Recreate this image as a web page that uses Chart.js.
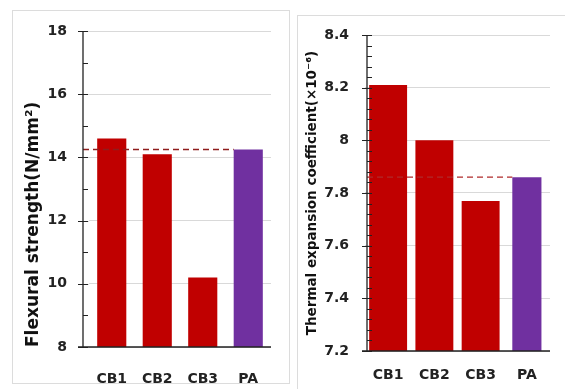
<!DOCTYPE html>
<html lang="en">
<head>
    <meta charset="UTF-8">
    <title>Flexural strength and thermal expansion</title>
    <script src="https://cdn.jsdelivr.net/npm/chart.js@4.4.1/dist/chart.umd.min.js"></script>
    <style>
        body {
            margin: 0;
            background: #fff;
            width: 565px;
            height: 389px;
            overflow: hidden;
            position: relative;
        }
        .panel {
            position: absolute;
            border: 1px solid #dcdcdc;
        }
        #panelLeft { left: 12px; top: 10px; width: 276px; height: 372px; }
        #panelRight { left: 297px; top: 15px; width: 270px; height: 380px; }
        .box { position: absolute; top: 0; height: 389px; }
        #boxLeft { left: 0; width: 290px; }
        #boxRight { left: 290px; width: 275px; }
    </style>
</head>
<body>
    <div class="panel" id="panelLeft"></div>
    <div class="panel" id="panelRight"></div>
    <div class="box" id="boxLeft"><canvas id="flexChart"></canvas></div>
    <div class="box" id="boxRight"><canvas id="thermChart"></canvas></div>

    <script>
        // data
        const categories = ['CB1', 'CB2', 'CB3', 'PA'];
        const flexural = [14.6, 14.1, 10.2, 14.25];
        const thermalCB = [8.21, 8.0, 7.77, null];
        const thermalPA = [null, null, null, 7.86];
        const flexRef = [14.25];
        const thermRef = [7.86];
        const flexTicks = [8, 10, 12, 14, 16, 18];
        const thermTicks = [7.2, 7.4, 7.6, 7.8, 8, 8.2, 8.4];

        const RED = '#C00000';
        const PURPLE = '#7030A0';
        const FONT = '"DejaVu Sans", "Liberation Sans", sans-serif';

        Chart.defaults.font.family = FONT;
        Chart.defaults.color = '#222';

        // axis line, tick marks, gridline stubs and the dashed reference line
        const excelAxis = {
            id: 'excelAxis',
            afterDatasetsDraw(chart, args, opts) {
                const { ctx, chartArea } = chart;
                const y = chart.scales.y;
                const ax = chartArea.left + opts.axisOffset;
                ctx.save();
                // gridline stubs left of chart area
                ctx.strokeStyle = '#d9d9d9';
                ctx.lineWidth = 1;
                opts.major.forEach(v => {
                    const py = Math.round(y.getPixelForValue(v)) + 0.5;
                    if (v === opts.major[0]) return;
                    ctx.beginPath();
                    ctx.moveTo(ax, py);
                    ctx.lineTo(chartArea.left, py);
                    ctx.stroke();
                });
                // dashed reference line
                const meta = chart.getDatasetMeta(chart.data.datasets.length - 1);
                const pa = meta.data[3];
                const ry = y.getPixelForValue(opts.refValue);
                ctx.strokeStyle = opts.refColor;
                ctx.lineWidth = 1.3;
                ctx.setLineDash([6, 4]);
                ctx.beginPath();
                ctx.moveTo(ax, ry);
                ctx.lineTo(pa.x - pa.width / 2, ry);
                ctx.stroke();
                ctx.setLineDash([]);
                // axis lines
                ctx.strokeStyle = '#222';
                ctx.lineWidth = 1.3;
                ctx.beginPath();
                ctx.moveTo(ax, chartArea.top);
                ctx.lineTo(ax, chartArea.bottom);
                ctx.moveTo(ax - 5, chartArea.bottom);
                ctx.lineTo(chartArea.right, chartArea.bottom);
                ctx.stroke();
                ctx.lineWidth = 1;
                opts.major.forEach(v => {
                    const py = Math.round(y.getPixelForValue(v)) + 0.5;
                    ctx.beginPath();
                    ctx.moveTo(ax - 5, py);
                    ctx.lineTo(ax + 5, py);
                    ctx.stroke();
                });
                for (let v = y.min; v < y.max - 1e-9; v += opts.minorStep) {
                    const py = Math.round(y.getPixelForValue(v)) + 0.5;
                    ctx.beginPath();
                    ctx.moveTo(ax, py);
                    ctx.lineTo(ax + 5, py);
                    ctx.stroke();
                }
                ctx.restore();
            }
        };

        function fmt(v) {
            return String(Number(v.toFixed(2)));
        }

        function yScale(min, max, step, title, titleSize, width, pad, align) {
            return {
                min: min,
                max: max,
                afterFit(scale) { scale.width = width; },
                border: { display: false },
                grid: { color: '#d9d9d9', drawTicks: false },
                ticks: {
                    stepSize: step,
                    padding: pad,
                    color: '#222',
                    font: { size: 14, weight: 'bold' },
                    callback: fmt
                },
                title: {
                    display: true,
                    text: title,
                    align: align,
                    color: '#111',
                    padding: { top: 0, bottom: 0 },
                    font: { size: titleSize, weight: 'bold' }
                }
            };
        }

        function xScale(pad, height) {
            return {
                afterFit(scale) { scale.height = height; },
                border: { display: false },
                grid: { display: false, drawTicks: false },
                ticks: {
                    padding: pad,
                    color: '#222',
                    font: { size: 14, weight: 'bold' }
                }
            };
        }

        // Flexural strength
        new Chart(document.getElementById('flexChart'), {
            type: 'bar',
            data: {
                labels: categories,
                datasets: [{
                    data: flexural,
                    backgroundColor: [RED, RED, RED, PURPLE],
                    categoryPercentage: 1,
                    barPercentage: 0.64
                }]
            },
            options: {
                responsive: true,
                maintainAspectRatio: false,
                animation: false,
                layout: { padding: { left: 23, right: 19, top: 31, bottom: 0 } },
                plugins: {
                    legend: { display: false },
                    tooltip: { enabled: false },
                    excelAxis: {
                        axisOffset: -6, major: flexTicks, minorStep: 1,
                        refValue: flexRef[0], refColor: '#8f1d1d'
                    }
                },
                scales: {
                    x: xScale(24, 42),
                    y: yScale(8, 18, 2, 'Flexural strength(N/mm²)', 17, 66, 22, 'start')
                }
            },
            plugins: [excelAxis]
        });

        // Thermal expansion coefficient
        new Chart(document.getElementById('thermChart'), {
            type: 'bar',
            data: {
                labels: categories,
                datasets: [{
                    data: thermalCB,
                    backgroundColor: RED,
                    categoryPercentage: 1,
                    barPercentage: 0.82
                }, {
                    data: thermalPA,
                    backgroundColor: PURPLE,
                    categoryPercentage: 1,
                    barPercentage: 0.63
                }]
            },
            options: {
                responsive: true,
                maintainAspectRatio: false,
                animation: false,
                datasets: { bar: { grouped: false } },
                layout: { padding: { left: 14, right: 15, top: 35, bottom: 0 } },
                plugins: {
                    legend: { display: false },
                    tooltip: { enabled: false },
                    excelAxis: {
                        axisOffset: 2, major: thermTicks, minorStep: 0.04,
                        refValue: thermRef[0], refColor: '#b02a2a'
                    }
                },
                scales: {
                    x: xScale(16, 38),
                    y: yScale(7.2, 8.4, 0.2, 'Thermal expansion coefficient(×10⁻⁶)', 13.5, 61, 16, 'center')
                }
            },
            plugins: [excelAxis]
        });
    </script>
</body>
</html>
